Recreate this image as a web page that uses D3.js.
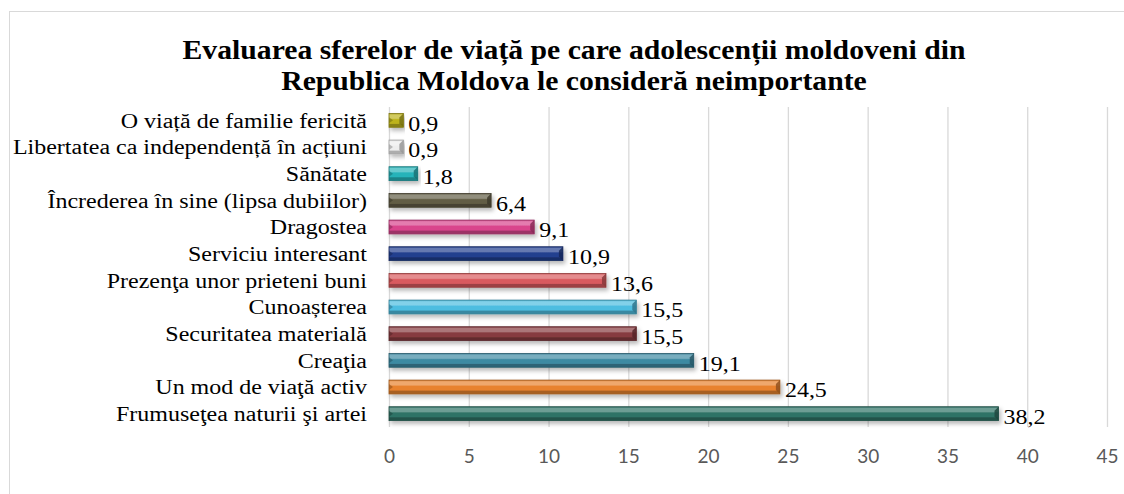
<!DOCTYPE html>
<html>
<head>
<meta charset="utf-8">
<script src="https://cdn.jsdelivr.net/npm/d3@7"></script>
<style>
  html, body { margin: 0; padding: 0; background: #fff; }
  svg { display: block; }
</style>
</head>
<body>
<div id="chart"></div>
<script>
  // Date (de sus în jos)
  const categories = [
    'O viață de familie fericită',
    'Libertatea ca independență în acțiuni',
    'Sănătate',
    'Încrederea în sine (lipsa dubiilor)',
    'Dragostea',
    'Serviciu interesant',
    'Prezenţa unor prieteni buni',
    'Cunoașterea',
    'Securitatea materială',
    'Creaţia ',
    'Un mod de viaţă activ',
    'Frumuseţea naturii şi artei'
  ];
  const values = [0.9, 0.9, 1.8, 6.4, 9.1, 10.9, 13.6, 15.5, 15.5, 19.1, 24.5, 38.2];
  const barColors = [
    '#bdb31c', '#eeeeee', '#27b3b9', '#625d45', '#d9448c', '#233f8f',
    '#d95a5e', '#4dbde0', '#873b3f', '#3e8aa2', '#e8822e', '#2f7366'
  ];
  const xTicks = [0, 5, 10, 15, 20, 25, 30, 35, 40, 45];
  const titleLines = [
    'Evaluarea sferelor de viață pe care adolescenții moldoveni din',
    'Republica Moldova le consideră neimportante'
  ];

  const W = 1124, H = 494;
  const plot = { left: 389, right: 1107, top: 107, bottom: 427 };
  const SERIF = '"Liberation Serif", "Times New Roman", serif';
  const FS = 20.5;
  const STRETCH = 1.17; // textul din original e lăţit pe orizontală

  const svg = d3.select('#chart').append('svg')
    .attr('width', W)
    .attr('height', H);

  const defs = svg.append('defs');

  // umbră sub bare
  const shadow = defs.append('filter')
    .attr('id', 'shadow')
    .attr('x', '-5%').attr('y', '-50%')
    .attr('width', '115%').attr('height', '250%');
  shadow.append('feDropShadow')
    .attr('dx', 2).attr('dy', 3)
    .attr('stdDeviation', 2)
    .attr('flood-color', '#000')
    .attr('flood-opacity', 0.28);

  // gradient vertical pentru efectul de relief
  barColors.forEach((c, i) => {
    const base = d3.color(c);
    const g = defs.append('linearGradient')
      .attr('id', 'grad' + i)
      .attr('x1', 0).attr('y1', 0).attr('x2', 0).attr('y2', 1);
    const light = d3.interpolateRgb(c, '#ffffff')(0.3);
    const dark = base.darker(0.9).formatHex();
    const stops = [
      [0, base.darker(0.3).formatHex()],
      [0.12, light],
      [0.35, light],
      [0.45, c],
      [0.72, c],
      [0.8, dark],
      [1, dark]
    ];
    stops.forEach(s => g.append('stop').attr('offset', s[0]).attr('stop-color', s[1]));
  });

  // chenar
  svg.append('rect')
    .attr('x', 9.5).attr('y', 11.5)
    .attr('width', W + 10).attr('height', H + 10)
    .attr('fill', '#fff')
    .attr('stroke', '#d9d9d9')
    .attr('stroke-width', 1);

  // titlu
  svg.append('g')
    .selectAll('text')
    .data(titleLines)
    .join('text')
    .attr('transform', (d, i) => `translate(574,${59 + i * 31}) scale(1.1,1)`)
    .attr('text-anchor', 'middle')
    .attr('font-family', SERIF)
    .attr('font-weight', 'bold')
    .attr('font-size', 27)
    .attr('fill', '#000')
    .text(d => d);

  const x = d3.scaleLinear()
    .domain([0, 45])
    .range([plot.left, plot.right]);

  const y = d3.scaleBand()
    .domain(categories)
    .range([plot.top, plot.bottom])
    .paddingInner(0.48)
    .paddingOuter(0.24);

  // grilă
  svg.append('g')
    .selectAll('line')
    .data(xTicks)
    .join('line')
    .attr('x1', d => x(d) + 0.5)
    .attr('x2', d => x(d) + 0.5)
    .attr('y1', plot.top)
    .attr('y2', plot.bottom)
    .attr('stroke', '#d9d9d9')
    .attr('stroke-width', 1.3);

  // axa X
  const xAxis = svg.append('g')
    .attr('transform', `translate(0,${plot.bottom})`)
    .call(d3.axisBottom(x).tickValues(xTicks).tickSize(0).tickPadding(23));
  xAxis.select('.domain').remove();
  xAxis.selectAll('text')
    .attr('font-family', 'Lato, "Open Sans", sans-serif')
    .attr('font-size', 19)
    .attr('fill', '#595959');

  // etichete categorii
  svg.append('g')
    .selectAll('text')
    .data(categories)
    .join('text')
    .attr('transform', d => `translate(367,${y(d) + y.bandwidth() / 2}) scale(${STRETCH},1)`)
    .attr('dy', '0.35em')
    .attr('text-anchor', 'end')
    .attr('font-family', SERIF)
    .attr('font-size', FS)
    .attr('fill', '#000')
    .text(d => d);

  // bare
  const bars = svg.append('g')
    .selectAll('g')
    .data(categories)
    .join('g')
    .attr('filter', 'url(#shadow)');

  bars.append('rect')
    .attr('x', x(0))
    .attr('y', d => y(d))
    .attr('width', (d, i) => x(values[i]) - x(0))
    .attr('height', y.bandwidth())
    .attr('fill', (d, i) => `url(#grad${i})`)
    .attr('stroke', (d, i) => d3.color(barColors[i]).darker(1.1).formatHex())
    .attr('stroke-width', 0.8);

  // teşitura capătului drept
  bars.append('path')
    .attr('d', (d, i) => {
      const x1 = x(values[i]), y0 = y(d), h = y.bandwidth();
      const b = Math.min(4, (x1 - x(0)) / 2);
      return `M${x1},${y0}L${x1 - b},${y0 + b}L${x1 - b},${y0 + h - b}L${x1},${y0 + h}Z`;
    })
    .attr('fill', (d, i) => d3.color(barColors[i]).darker(1.3).formatHex())
    .attr('opacity', 0.85);

  // teşitura capătului stâng
  bars.append('path')
    .attr('d', d => {
      const x0 = x(0), y0 = y(d), h = y.bandwidth();
      return `M${x0},${y0 + h / 2 - 3}L${x0 + 4},${y0 + h / 2}L${x0},${y0 + h / 2 + 3}Z`;
    })
    .attr('fill', (d, i) => d3.color(barColors[i]).darker(1.3).formatHex())
    .attr('opacity', 0.6);

  // etichete valori
  const fmt = v => d3.format('.1f')(v).replace('.', ',');
  svg.append('g')
    .selectAll('text')
    .data(categories)
    .join('text')
    .attr('transform', (d, i) =>
      `translate(${x(values[i]) + 5},${y(d) + y.bandwidth() / 2 + 3}) scale(${STRETCH},1)`)
    .attr('dy', '0.35em')
    .attr('font-family', SERIF)
    .attr('font-size', FS)
    .attr('fill', '#000')
    .text((d, i) => fmt(values[i]));
</script>
</body>
</html>
